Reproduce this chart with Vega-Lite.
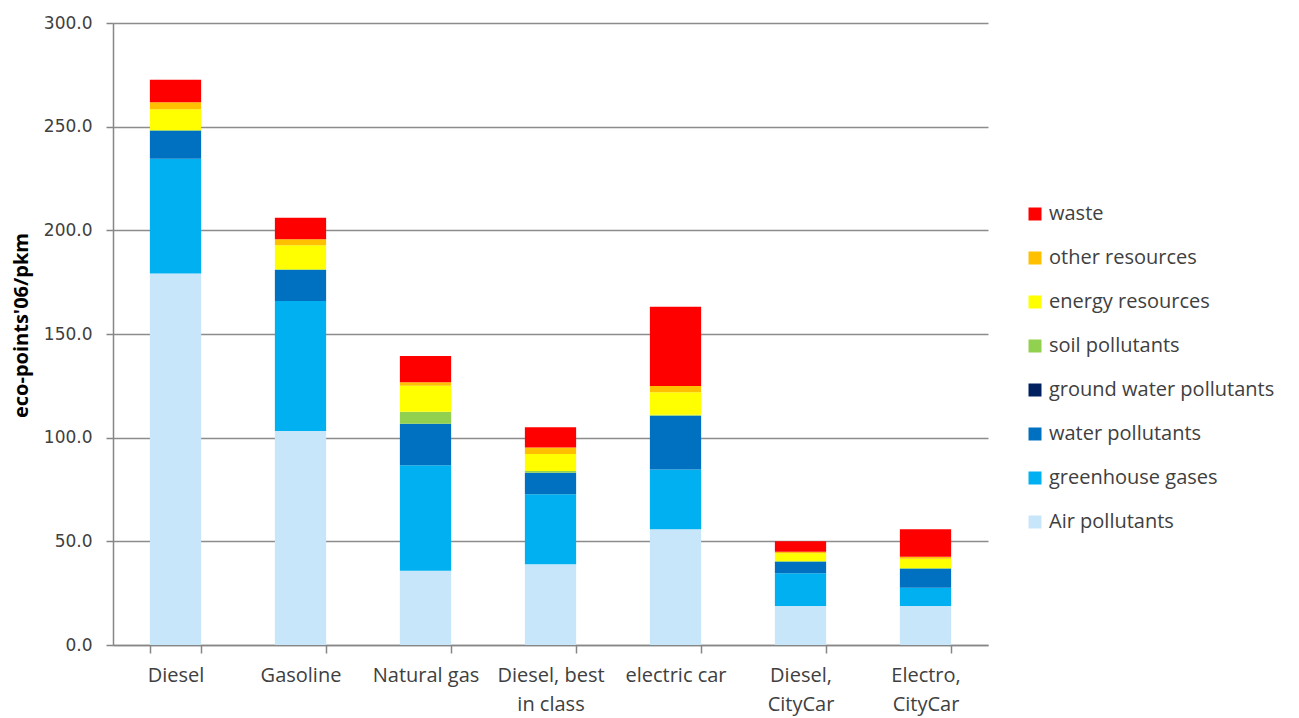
{
  "$schema": "https://vega.github.io/schema/vega-lite/v6.json",
  "width": 875,
  "height": 622,
  "autosize": {"type": "none"},
  "padding": {"left": 113, "top": 23, "right": 311, "bottom": 73},
  "background": "white",
  "config": {
    "view": {"stroke": null},
    "axis": {"labelColor": "#404040", "titleColor": "#000000"}
  },
  "data": {
    "values": [
      {"vehicle": "Diesel", "category": "Air pollutants", "value": 179.2},
      {"vehicle": "Diesel", "category": "greenhouse gases", "value": 55.3},
      {"vehicle": "Diesel", "category": "water pollutants", "value": 13.5},
      {"vehicle": "Diesel", "category": "ground water pollutants", "value": 0},
      {"vehicle": "Diesel", "category": "soil pollutants", "value": 0.4},
      {"vehicle": "Diesel", "category": "energy resources", "value": 10.0},
      {"vehicle": "Diesel", "category": "other resources", "value": 3.4},
      {"vehicle": "Diesel", "category": "waste", "value": 10.8},

      {"vehicle": "Gasoline", "category": "Air pollutants", "value": 103.2},
      {"vehicle": "Gasoline", "category": "greenhouse gases", "value": 62.7},
      {"vehicle": "Gasoline", "category": "water pollutants", "value": 15.0},
      {"vehicle": "Gasoline", "category": "ground water pollutants", "value": 0},
      {"vehicle": "Gasoline", "category": "soil pollutants", "value": 0.3},
      {"vehicle": "Gasoline", "category": "energy resources", "value": 11.6},
      {"vehicle": "Gasoline", "category": "other resources", "value": 2.9},
      {"vehicle": "Gasoline", "category": "waste", "value": 10.4},

      {"vehicle": "Natural gas", "category": "Air pollutants", "value": 35.8},
      {"vehicle": "Natural gas", "category": "greenhouse gases", "value": 50.9},
      {"vehicle": "Natural gas", "category": "water pollutants", "value": 20.0},
      {"vehicle": "Natural gas", "category": "ground water pollutants", "value": 0},
      {"vehicle": "Natural gas", "category": "soil pollutants", "value": 5.8},
      {"vehicle": "Natural gas", "category": "energy resources", "value": 12.6},
      {"vehicle": "Natural gas", "category": "other resources", "value": 1.6},
      {"vehicle": "Natural gas", "category": "waste", "value": 12.7},

      {"vehicle": "Diesel, best in class", "category": "Air pollutants", "value": 38.9},
      {"vehicle": "Diesel, best in class", "category": "greenhouse gases", "value": 33.8},
      {"vehicle": "Diesel, best in class", "category": "water pollutants", "value": 10.4},
      {"vehicle": "Diesel, best in class", "category": "ground water pollutants", "value": 0},
      {"vehicle": "Diesel, best in class", "category": "soil pollutants", "value": 0.8},
      {"vehicle": "Diesel, best in class", "category": "energy resources", "value": 8.2},
      {"vehicle": "Diesel, best in class", "category": "other resources", "value": 3.1},
      {"vehicle": "Diesel, best in class", "category": "waste", "value": 9.8},

      {"vehicle": "electric car", "category": "Air pollutants", "value": 55.8},
      {"vehicle": "electric car", "category": "greenhouse gases", "value": 28.9},
      {"vehicle": "electric car", "category": "water pollutants", "value": 25.9},
      {"vehicle": "electric car", "category": "ground water pollutants", "value": 0},
      {"vehicle": "electric car", "category": "soil pollutants", "value": 0.5},
      {"vehicle": "electric car", "category": "energy resources", "value": 10.8},
      {"vehicle": "electric car", "category": "other resources", "value": 3.0},
      {"vehicle": "electric car", "category": "waste", "value": 38.3},

      {"vehicle": "Diesel, CityCar", "category": "Air pollutants", "value": 18.8},
      {"vehicle": "Diesel, CityCar", "category": "greenhouse gases", "value": 15.8},
      {"vehicle": "Diesel, CityCar", "category": "water pollutants", "value": 5.6},
      {"vehicle": "Diesel, CityCar", "category": "ground water pollutants", "value": 0},
      {"vehicle": "Diesel, CityCar", "category": "soil pollutants", "value": 0.3},
      {"vehicle": "Diesel, CityCar", "category": "energy resources", "value": 3.7},
      {"vehicle": "Diesel, CityCar", "category": "other resources", "value": 0.8},
      {"vehicle": "Diesel, CityCar", "category": "waste", "value": 5.0},

      {"vehicle": "Electro, CityCar", "category": "Air pollutants", "value": 18.8},
      {"vehicle": "Electro, CityCar", "category": "greenhouse gases", "value": 8.8},
      {"vehicle": "Electro, CityCar", "category": "water pollutants", "value": 9.2},
      {"vehicle": "Electro, CityCar", "category": "ground water pollutants", "value": 0},
      {"vehicle": "Electro, CityCar", "category": "soil pollutants", "value": 0.3},
      {"vehicle": "Electro, CityCar", "category": "energy resources", "value": 4.5},
      {"vehicle": "Electro, CityCar", "category": "other resources", "value": 1.0},
      {"vehicle": "Electro, CityCar", "category": "waste", "value": 13.2}
    ]
  },
  "transform": [
    {
      "calculate": "indexof(['Air pollutants', 'greenhouse gases', 'water pollutants', 'ground water pollutants', 'soil pollutants', 'energy resources', 'other resources', 'waste'], datum.category)",
      "as": "stackOrder"
    }
  ],
  "mark": {"type": "bar", "stroke": null},
  "encoding": {
    "x": {
      "field": "vehicle",
      "type": "nominal",
      "sort": null,
      "title": null,
      "scale": {"paddingInner": 0.59, "paddingOuter": 0.295},
      "axis": {
        "labelAngle": 0,
        "labelFont": "Open Sans",
        "labelFontSize": 20,
        "labelColor": "#404040",
        "labelPadding": 12,
        "labelLineHeight": 29,
        "labelBaseline": "top",
        "labelExpr": "datum.value == 'Diesel, best in class' ? ['Diesel, best', 'in class'] : datum.value == 'Diesel, CityCar' ? ['Diesel,', 'CityCar'] : datum.value == 'Electro, CityCar' ? ['Electro,', 'CityCar'] : datum.value",
        "labelLimit": 200,
        "tickBand": "extent",
        "tickSize": 8,
        "tickColor": "#868686",
        "tickWidth": 1.5,
        "domainColor": "#868686",
        "domainWidth": 1.5,
        "grid": false
      }
    },
    "y": {
      "field": "value",
      "type": "quantitative",
      "stack": "zero",
      "title": "eco-points'06/pkm",
      "scale": {"domain": [0, 300], "nice": false},
      "axis": {
        "values": [0, 50, 100, 150, 200, 250, 300],
        "format": ".1f",
        "labelFont": "DejaVu Sans",
        "labelFontSize": 17,
        "labelColor": "#404040",
        "labelPadding": 14,
        "tickSize": 7,
        "tickColor": "#868686",
        "tickWidth": 1.5,
        "domainColor": "#868686",
        "domainWidth": 1.5,
        "grid": true,
        "gridColor": "#8c8c8c",
        "gridWidth": 1.5,
        "titleFont": "Open Sans",
        "titleFontSize": 20,
        "titleFontWeight": "bold",
        "titleColor": "#000000",
        "titlePadding": 12,
        "titleY": 302
      }
    },
    "color": {
      "field": "category",
      "type": "nominal",
      "title": null,
      "scale": {
        "domain": ["waste", "other resources", "energy resources", "soil pollutants", "ground water pollutants", "water pollutants", "greenhouse gases", "Air pollutants"],
        "range": ["#ff0000", "#ffc000", "#ffff00", "#92d050", "#002060", "#0070c0", "#00b0f0", "#c8e6fa"]
      },
      "legend": {
        "orient": "none",
        "legendX": 912,
        "legendY": 181,
        "symbolType": "square",
        "symbolSize": 169,
        "symbolStrokeWidth": 0,
        "labelFont": "Open Sans",
        "labelFontSize": 20,
        "labelColor": "#404040",
        "labelOffset": 4,
        "labelLimit": 300,
        "rowPadding": 24
      }
    },
    "order": {"field": "stackOrder", "type": "quantitative", "sort": "ascending"}
  }
}
